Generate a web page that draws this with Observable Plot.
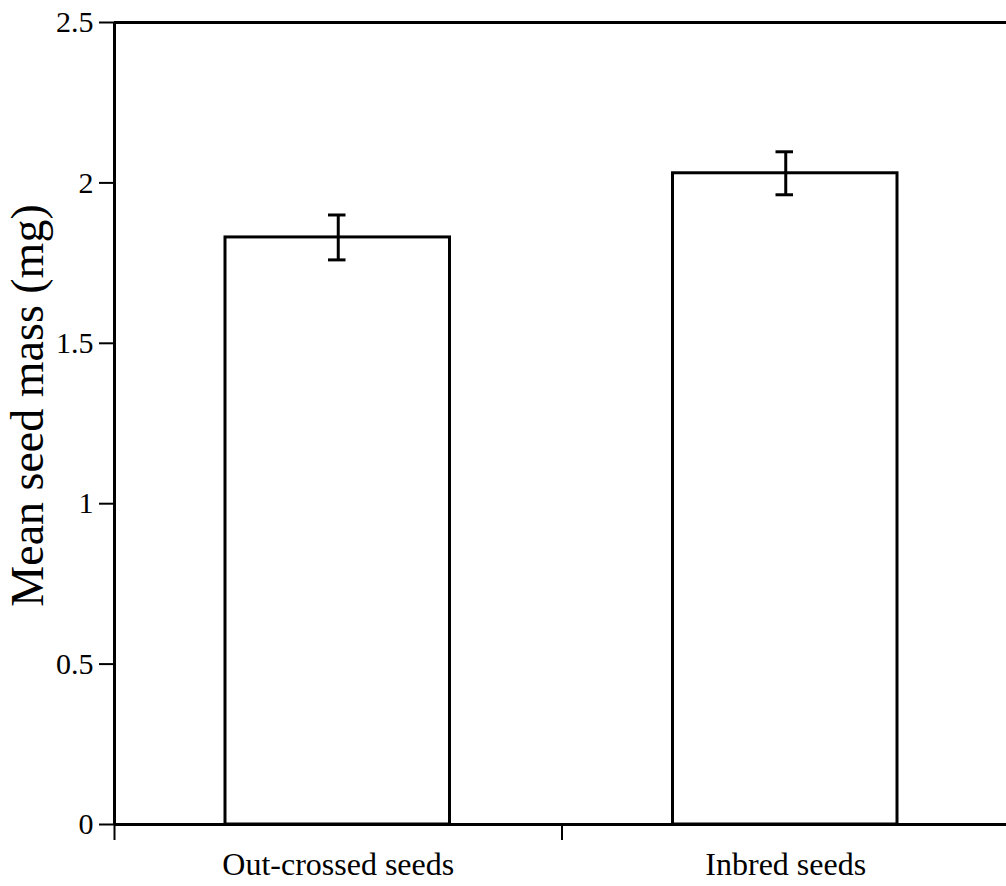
<!DOCTYPE html>
<html>
<head>
<meta charset="utf-8">
<script src="https://cdn.jsdelivr.net/npm/d3@7"></script>
<script src="https://cdn.jsdelivr.net/npm/@observablehq/plot@0.6"></script>
<style>
  html, body { margin: 0; padding: 0; background: #fff; }
  svg { display: block; }
</style>
</head>
<body>
<div id="chart"></div>
<script>
const categories = ["Out-crossed seeds", "Inbred seeds"];
const means = [1.83, 2.03];
const errors = [0.07, 0.067];
const yTicks = [0, 0.5, 1, 1.5, 2, 2.5];
const yLabel = "Mean seed mass (mg)";

const data = categories.map((c, i) => ({
  cat: c, i, x1: i, x2: i + 1, xm: i + 0.5,
  mean: means[i], lo: means[i] - errors[i], hi: means[i] + errors[i]
}));

const font = "'Liberation Serif', 'Times New Roman', serif";

const plot = Plot.plot({
  width: 1006,
  height: 886,
  marginLeft: 114,
  marginRight: 0,
  marginTop: 22,
  marginBottom: 62,
  style: { fontFamily: font, fontSize: "30px", color: "#000", background: "#fff" },
  x: { domain: [0, categories.length], range: [114, 1009], axis: null },
  y: { domain: [0, 2.5], axis: null },
  marks: [
    Plot.rectY(data, { x1: "x1", x2: "x2", y: "mean", insetLeft: 111, insetRight: 112, fill: "#fff", stroke: "#000", strokeWidth: 3 }),
    Plot.ruleX(data, { x: "xm", y1: "lo", y2: "hi", stroke: "#000", strokeWidth: 3 }),
    Plot.ruleY(data, { y: "hi", x1: "x1", x2: "x2", insetLeft: 214, insetRight: 216, stroke: "#000", strokeWidth: 3 }),
    Plot.ruleY(data, { y: "lo", x1: "x1", x2: "x2", insetLeft: 214, insetRight: 216, stroke: "#000", strokeWidth: 3 }),
    // frame lines
    Plot.ruleY([2.5], { stroke: "#000", strokeWidth: 3 }),
    Plot.ruleY([0], { stroke: "#000", strokeWidth: 3 }),
    Plot.ruleX([0], { stroke: "#000", strokeWidth: 3 }),
    // y ticks and labels
    Plot.axisY(yTicks, { anchor: "left", tickSize: 15, tickFormat: () => "", strokeWidth: 2, label: null }),
    Plot.text(yTicks, { x: 0, y: d => d, text: d => String(d), textAnchor: "end", dx: -21, fontSize: 30, lineAnchor: "middle" }),
    // x ticks at category boundaries
    Plot.axisX(d3.range(categories.length + 1), { anchor: "bottom", tickSize: 16, tickFormat: () => "", strokeWidth: 2, label: null }),
    // x labels
    Plot.text(data, { x: "xm", y: 0, text: "cat", dy: 40, fontSize: 32, lineAnchor: "middle" }),
    // y label
    Plot.text([yLabel], { frameAnchor: "left", textAnchor: "middle", rotate: -90, dx: -86, dy: -18, fontSize: 46, text: d => d })
  ]
});

document.getElementById("chart").appendChild(plot);
</script>
</body>
</html>
